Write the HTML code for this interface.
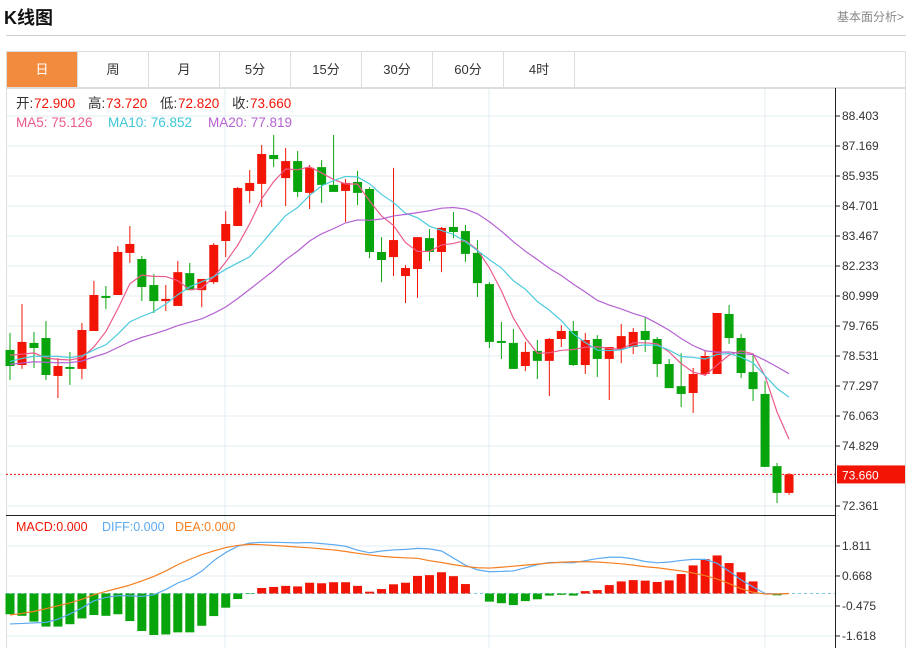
<!DOCTYPE html>
<html><head><meta charset="utf-8">
<style>
body{margin:0;width:910px;height:648px;background:#fff;overflow:hidden;font-family:"Liberation Sans","Noto Sans CJK SC",sans-serif;position:relative}
#title{position:absolute;left:4px;top:4px;font-size:18px;font-weight:bold;color:#111}
#more{position:absolute;right:6px;top:8px;font-size:12px;color:#888}
#divider{position:absolute;left:6px;top:35px;width:900px;height:1px;background:#d0d0d0}
#tabs{position:absolute;left:6px;top:51px;width:898px;height:35px;border:1px solid #ddd;display:flex}
.tab{width:70px;border-right:1px solid #ddd;text-align:center;line-height:35px;font-size:13px;color:#333}
.tab.on{background:#f38b3f;color:#fff}
svg{position:absolute;left:0;top:0}
</style></head><body>
<div id="title">K线图</div>
<div id="more">基本面分析&gt;</div>
<div id="divider"></div>
<div id="tabs">
<div class="tab on">日</div>
<div class="tab">周</div>
<div class="tab">月</div>
<div class="tab">5分</div>
<div class="tab">15分</div>
<div class="tab">30分</div>
<div class="tab">60分</div>
<div class="tab">4时</div>
</div>
<svg id="chart" width="910" height="648"></svg>
<script>
const opens=[78.78,78.16,79.07,79.27,77.71,78.08,78.00,79.56,81.00,81.04,82.77,82.52,81.45,80.79,80.59,81.94,81.24,81.57,83.26,83.88,85.32,85.61,86.80,85.85,86.55,85.24,86.30,85.57,85.32,85.69,85.40,82.81,82.60,81.82,82.11,83.38,82.81,83.84,83.67,82.77,81.49,79.15,79.07,78.12,78.74,78.33,79.23,79.56,78.16,79.23,78.41,78.82,78.90,79.56,79.23,78.20,77.29,77.01,77.79,77.79,80.26,79.27,77.87,76.97,74.00,72.90];
const closes=[78.12,79.11,78.86,77.75,78.12,78.00,79.60,81.04,80.92,82.81,83.14,81.37,80.79,80.88,81.98,81.24,81.70,83.10,83.96,85.44,85.65,86.84,86.63,86.55,85.28,86.27,85.57,85.28,85.65,85.24,82.81,82.48,83.30,82.15,83.42,82.81,83.80,83.63,82.73,81.53,79.11,79.07,78.00,78.70,78.33,79.23,79.56,78.16,79.19,78.41,78.90,79.35,79.52,79.19,78.20,77.21,76.97,77.79,78.53,80.30,79.27,77.83,77.17,73.97,72.90,73.66];
const highs=[79.48,80.67,79.52,79.97,78.45,78.70,79.89,81.62,81.41,83.05,83.88,82.64,81.90,81.45,82.44,82.36,81.70,83.18,84.49,85.48,86.18,87.21,87.62,87.09,86.96,86.39,86.59,87.62,85.81,86.14,85.48,83.42,86.27,82.27,83.42,83.75,83.84,84.45,83.92,83.30,81.57,79.93,79.64,79.11,79.19,79.27,79.80,79.97,79.48,79.39,78.90,79.85,79.68,80.13,79.31,78.41,78.65,78.04,78.78,80.30,80.63,79.44,78.61,77.50,74.13,73.72];
const lows=[77.54,78.00,78.04,77.54,76.80,77.34,77.58,79.56,80.46,81.04,82.36,80.79,80.30,80.38,80.59,81.24,80.54,81.49,82.60,83.88,84.82,84.66,86.30,84.70,85.07,84.58,84.82,85.28,84.04,84.74,82.56,81.57,81.82,80.71,80.92,82.44,81.98,83.38,82.40,80.96,78.86,78.41,78.00,77.91,77.58,76.88,78.90,78.12,77.79,77.67,76.72,78.24,78.61,78.70,77.67,77.21,76.43,76.19,77.71,77.79,79.03,77.63,76.68,73.97,72.48,72.82];
const history=[78.0,77.8,78.2,78.5,77.9,78.3,77.6,77.9,78.1,78.4,77.8,78.0,77.7,78.2,78.5,78.9,78.6,78.8,78.4];
const macdBars=[-0.79,-0.85,-1.07,-1.26,-1.26,-1.17,-0.95,-0.82,-0.85,-0.79,-1.05,-1.43,-1.58,-1.56,-1.48,-1.48,-1.23,-0.86,-0.54,-0.21,-0.02,0.21,0.25,0.29,0.27,0.41,0.39,0.43,0.43,0.29,0.07,0.17,0.35,0.41,0.67,0.70,0.81,0.66,0.36,0.0,-0.31,-0.37,-0.44,-0.29,-0.22,-0.08,-0.05,-0.08,0.09,0.13,0.32,0.46,0.51,0.49,0.44,0.50,0.74,1.07,1.31,1.45,1.16,0.81,0.46,0.0,-0.07,0.0];
const diffs=[-1.16,-1.14,-1.12,-1.10,-0.98,-0.78,-0.55,-0.28,-0.15,-0.08,-0.09,-0.11,-0.05,0.15,0.40,0.58,0.85,1.25,1.56,1.80,1.92,1.95,1.95,1.94,1.93,1.94,1.90,1.86,1.80,1.65,1.55,1.62,1.66,1.68,1.72,1.70,1.62,1.35,1.08,0.90,0.83,0.84,0.86,0.98,1.10,1.18,1.18,1.17,1.25,1.33,1.38,1.38,1.32,1.22,1.17,1.20,1.26,1.30,1.30,1.15,0.85,0.52,0.25,0.0,-0.02,0.0];
const deas=[-0.82,-0.76,-0.68,-0.58,-0.47,-0.36,-0.22,-0.05,0.08,0.20,0.32,0.48,0.65,0.86,1.10,1.30,1.48,1.62,1.75,1.83,1.87,1.86,1.83,1.80,1.77,1.74,1.70,1.66,1.60,1.53,1.47,1.42,1.38,1.36,1.34,1.25,1.18,1.10,1.03,0.98,0.97,1.00,1.04,1.08,1.12,1.16,1.19,1.21,1.21,1.20,1.17,1.13,1.08,1.02,0.98,0.92,0.86,0.78,0.68,0.55,0.38,0.18,0.05,-0.02,-0.02,0.0];
const priceTicks=[88.403,87.169,85.935,84.701,83.467,82.233,80.999,79.765,78.531,77.297,76.063,74.829,73.660,72.361];
const macdTicks=[1.811,0.668,-0.475,-1.618];

const NS="http://www.w3.org/2000/svg";
const svg=document.getElementById('chart');
function el(tag,attrs,parent){const e=document.createElementNS(NS,tag);for(const k in attrs)e.setAttribute(k,attrs[k]);(parent||svg).appendChild(e);return e;}
const RED='#f21505',GREEN='#08a40c';
const xOf=i=>10+i*11.985;
const yP=v=>116+(88.403-v)*(390/(88.403-72.361));
const yM=v=>593.5-v*26.25;

const plotL=6,plotR=835;
[116,146,176,206,236,266,296,326,356,386,416,446,476,506].forEach(y=>{const g=el('line',{x1:plotL,x2:plotR,y1:y,y2:y,stroke:'#e3ecf3','stroke-width':1});});
[546,576,606,636].forEach(y=>{const g=el('line',{x1:plotL,x2:plotR,y1:y,y2:y,stroke:'#e3ecf3','stroke-width':1});});
[225,489,765].forEach(x=>{const g=el('line',{x1:x,x2:x,y1:88,y2:648,stroke:'#e3ecf3','stroke-width':1});});
const fr=el('rect',{x:6.5,y:88.5,width:899,height:560,fill:'none',stroke:'#ddd'});

const ax=el('line',{x1:835.5,x2:835.5,y1:88,y2:648,stroke:'#222'});

const sep=el('line',{x1:6,x2:836,y1:515.5,y2:515.5,stroke:'#222'});


priceTicks.forEach(v=>{
 if(v===73.660)return;
 const y=yP(v);
 const t=el('line',{x1:835,x2:840,y1:y,y2:y,stroke:'#222'});
 
 const tx=el('text',{x:842,y:y+4,'font-size':12,fill:'#333'});tx.textContent=v.toFixed(3);
 
});
macdTicks.forEach(v=>{
 const y=yM(v);
 const t=el('line',{x1:835,x2:840,y1:y,y2:y,stroke:'#222'});
 
 const tx=el('text',{x:842,y:y+4,'font-size':12,fill:'#333'});tx.textContent=v.toFixed(3);
 
});

const last=closes[closes.length-1];
const ly=yP(last);
const cl=el('line',{x1:6,x2:835,y1:ly,y2:ly,stroke:RED,'stroke-dasharray':'2,2'});

const cb=el('rect',{x:837,y:ly-9,width:68,height:18,fill:RED});

const ct=el('text',{x:842,y:ly+5,'font-size':12,fill:'#fff'});ct.textContent=last.toFixed(3);


opens.forEach((o,i)=>{
 const c=closes[i],x=xOf(i),col=c>=o?RED:GREEN;
 const w=el('line',{x1:x,x2:x,y1:yP(highs[i]),y2:yP(lows[i]),stroke:col,'stroke-width':1});
 
 const top=yP(Math.max(o,c)),bot=yP(Math.min(o,c));
 const b=el('rect',{x:x-4.5,y:top,width:9,height:Math.max(1,bot-top),fill:col});
 
});

const all=history.concat(closes);
function ma(n){return closes.map((_,i)=>{const k=i+history.length;let s=0;for(let j=k-n+1;j<=k;j++)s+=all[j];return s/n;});}
[[5,'#ec5a8c','ma5-line'],[10,'#4ccbdc','ma10-line'],[20,'#b562d2','ma20-line']].forEach(([n,col,name])=>{
 const vals=ma(n);
 const p=el('polyline',{points:vals.map((v,i)=>xOf(i)+','+yP(v)).join(' '),fill:'none',stroke:col,'stroke-width':1.2});
 
});

const z=el('line',{x1:6,x2:835,y1:yM(0),y2:yM(0),stroke:'#7cc8e8','stroke-dasharray':'3,3'});

macdBars.forEach((v,i)=>{
 const y0=yM(0),y1=yM(v);
 const r=el('rect',{x:xOf(i)-4.5,y:Math.min(y0,y1),width:9,height:Math.abs(y1-y0),fill:v>=0?RED:GREEN});
 
});
const dl=el('polyline',{points:diffs.map((v,i)=>xOf(i)+','+yM(v)).join(' '),fill:'none',stroke:'#5caaf0','stroke-width':1.2});

const el2=el('polyline',{points:deas.map((v,i)=>xOf(i)+','+yM(v)).join(' '),fill:'none',stroke:'#f57f20','stroke-width':1.2});


[['开:',16,'#333'],['72.900',34,RED],['高:',88,'#333'],['73.720',106,RED],['低:',160,'#333'],['72.820',178,RED],['收:',232,'#333'],['73.660',250,RED]].forEach(([s,x,c])=>{
 const t=el('text',{x:x,y:108,'font-size':13.5,fill:c});t.textContent=s;
 
});
[['MA5: 75.126','#ec5a8c',16],['MA10: 76.852','#3cc6d8',108],['MA20: 77.819','#b562d2',208]].forEach(([s,c,x])=>{const t=el('text',{x:x,y:127,'font-size':13.5,fill:c});t.textContent=s;});
[['MACD:0.000',RED,16],['DIFF:0.000','#5caaf0',102],['DEA:0.000','#f57f20',175]].forEach(([s,c,x])=>{const t=el('text',{x:x,y:531,'font-size':12.5,fill:c});t.textContent=s;});
</script>
</body></html>
